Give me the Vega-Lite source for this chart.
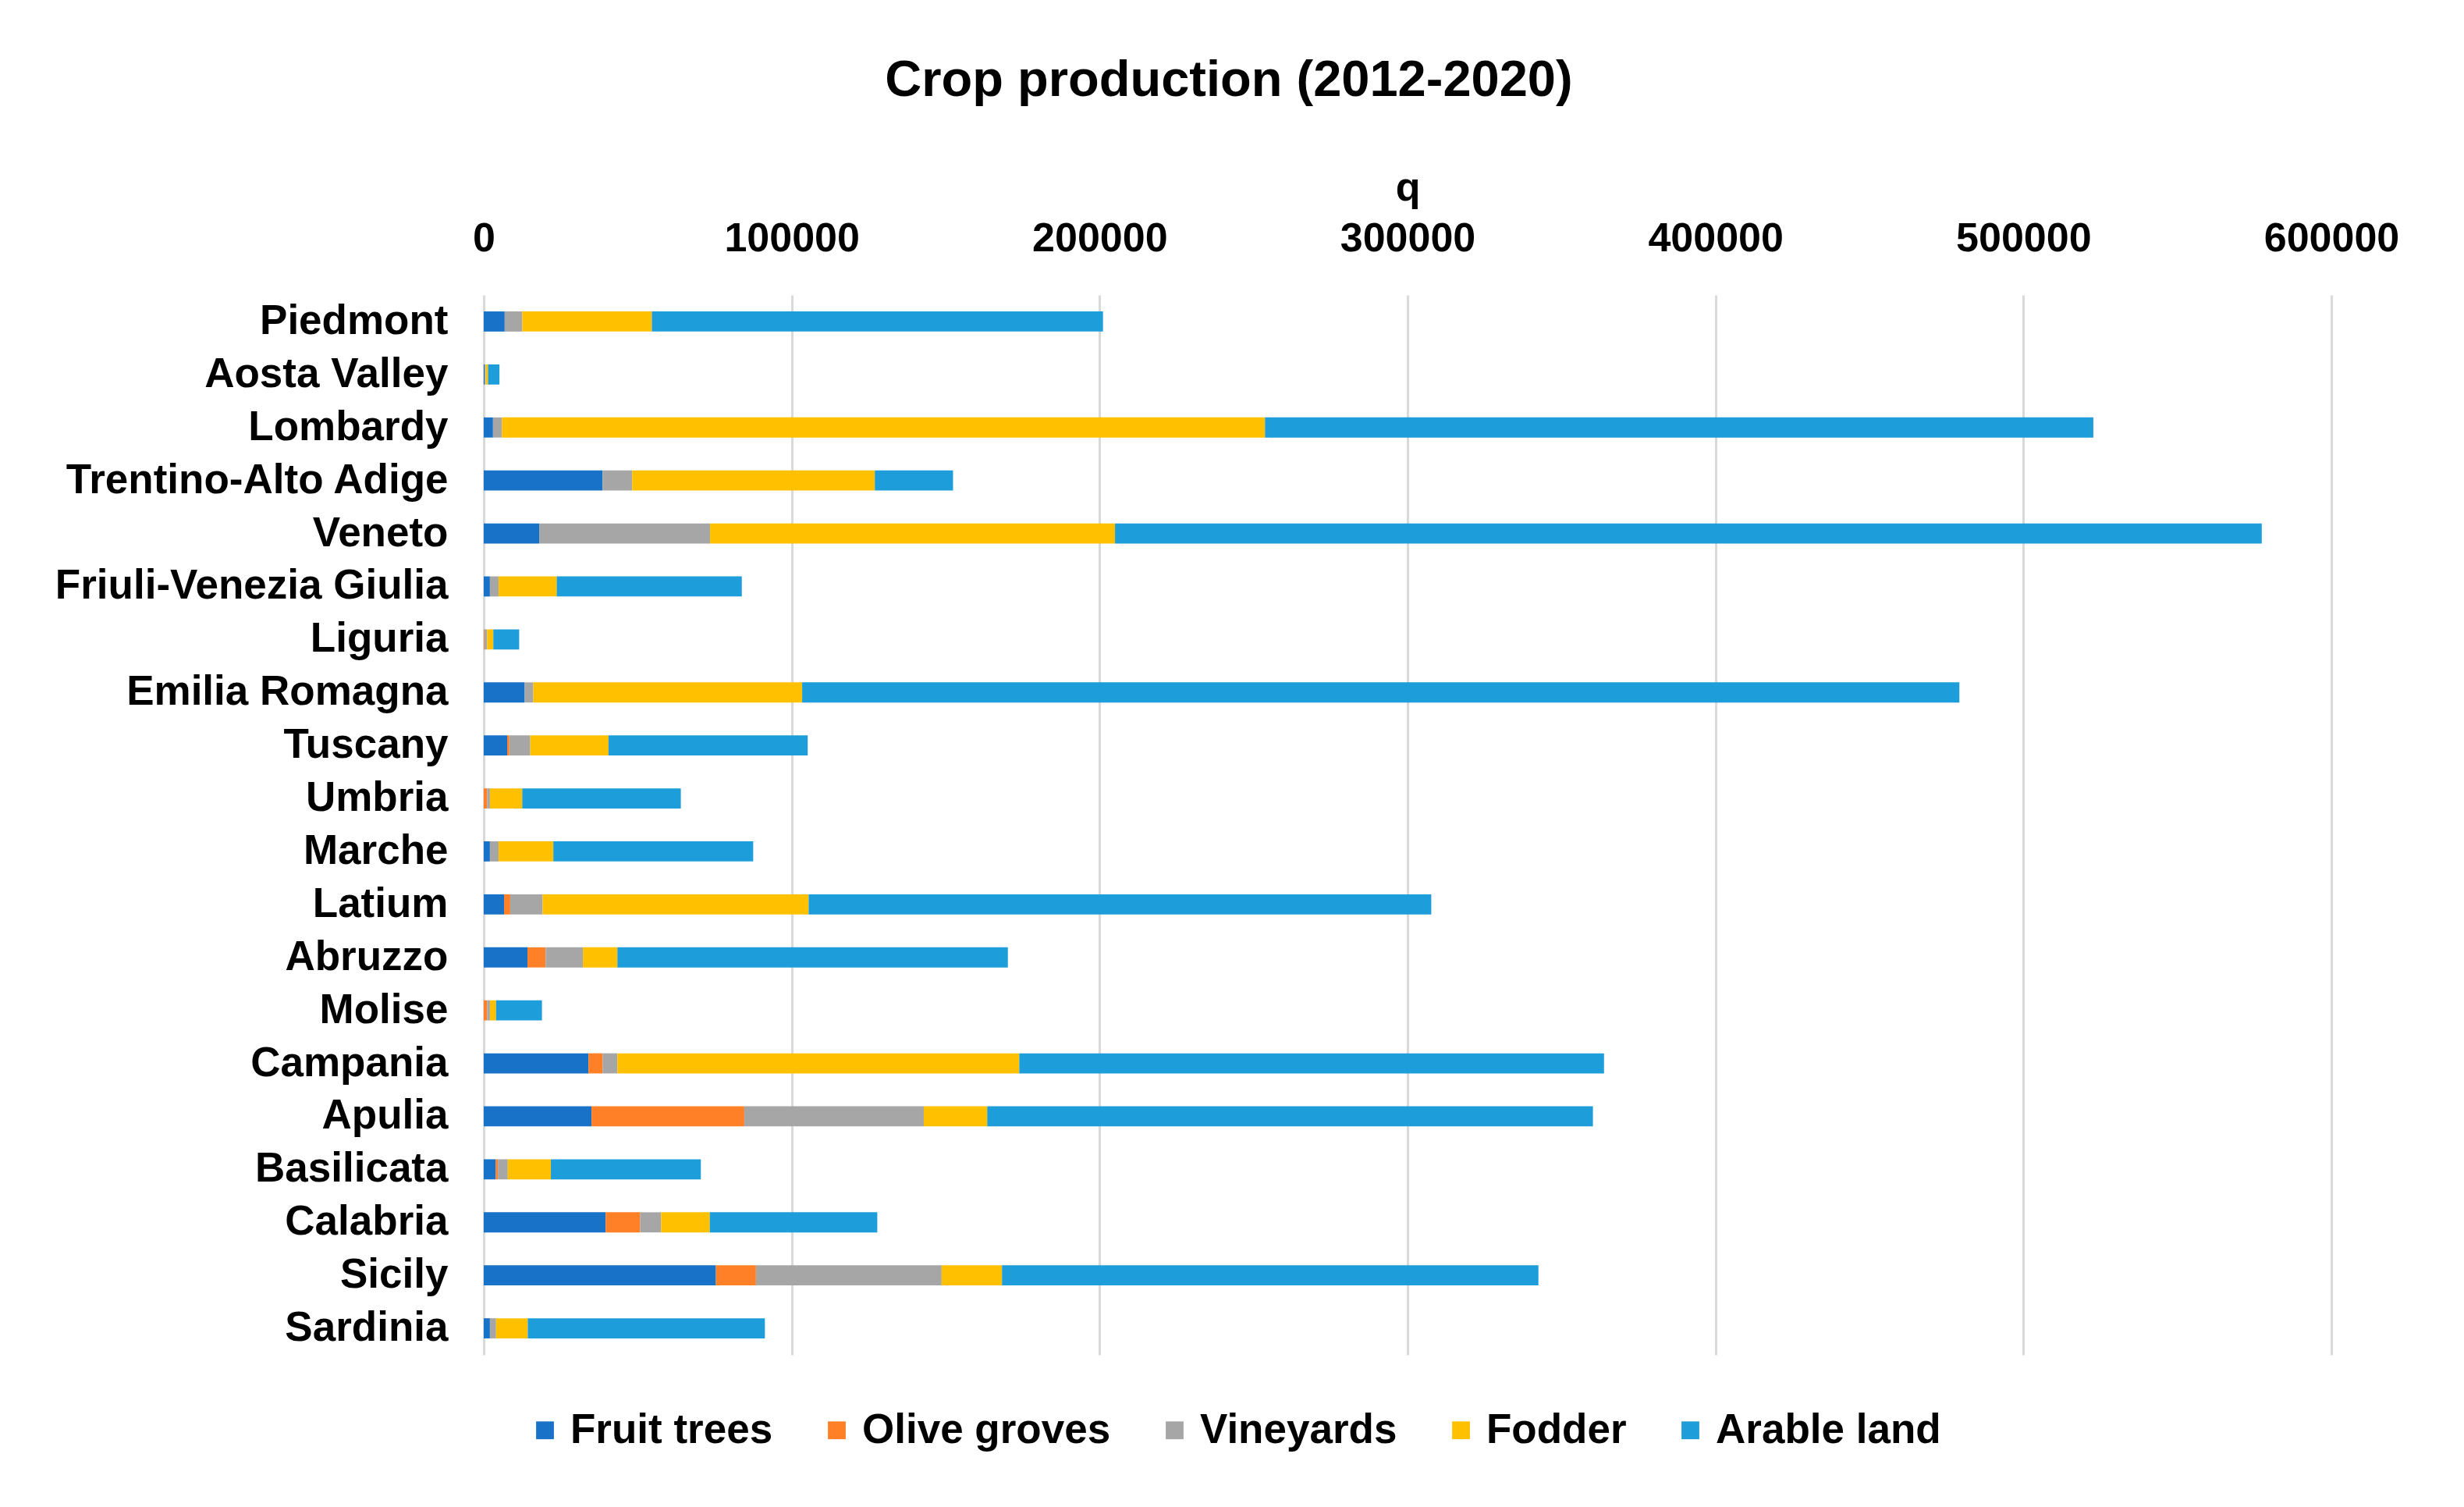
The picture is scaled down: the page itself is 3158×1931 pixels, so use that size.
{
  "$schema": "https://vega.github.io/schema/vega-lite/v6.json",
  "autosize": "none",
  "padding": {"left": 620, "top": 378, "right": 170, "bottom": 195},
  "width": 2368,
  "height": 1358,
  "background": "white",
  "title": {
    "text": "Crop production (2012-2020)",
    "font": "Liberation Sans",
    "fontSize": 65,
    "fontWeight": "bold",
    "color": "#000000",
    "anchor": "middle",
    "dx": -229,
    "offset": 77
  },
  "data": {
    "values": [
      {"region": "Piedmont", "Fruit trees": 6800, "Olive groves": 0, "Vineyards": 5700, "Fodder": 42100, "Arable land": 146500},
      {"region": "Aosta Valley", "Fruit trees": 300, "Olive groves": 0, "Vineyards": 300, "Fodder": 800, "Arable land": 3700},
      {"region": "Lombardy", "Fruit trees": 3000, "Olive groves": 0, "Vineyards": 2900, "Fodder": 247800, "Arable land": 269000},
      {"region": "Trentino-Alto Adige", "Fruit trees": 38600, "Olive groves": 0, "Vineyards": 9600, "Fodder": 78800, "Arable land": 25400},
      {"region": "Veneto", "Fruit trees": 18000, "Olive groves": 0, "Vineyards": 55500, "Fodder": 131500, "Arable land": 372400},
      {"region": "Friuli-Venezia Giulia", "Fruit trees": 2000, "Olive groves": 0, "Vineyards": 2800, "Fodder": 18900, "Arable land": 60100},
      {"region": "Liguria", "Fruit trees": 0, "Olive groves": 200, "Vineyards": 900, "Fodder": 2000, "Arable land": 8400},
      {"region": "Emilia Romagna", "Fruit trees": 13300, "Olive groves": 0, "Vineyards": 2800, "Fodder": 87300, "Arable land": 375800},
      {"region": "Tuscany", "Fruit trees": 7600, "Olive groves": 700, "Vineyards": 6800, "Fodder": 25400, "Arable land": 64700},
      {"region": "Umbria", "Fruit trees": 0, "Olive groves": 1100, "Vineyards": 900, "Fodder": 10500, "Arable land": 51500},
      {"region": "Marche", "Fruit trees": 2000, "Olive groves": 0, "Vineyards": 2800, "Fodder": 17800, "Arable land": 64900},
      {"region": "Latium", "Fruit trees": 6600, "Olive groves": 2000, "Vineyards": 10500, "Fodder": 86400, "Arable land": 202200},
      {"region": "Abruzzo", "Fruit trees": 14200, "Olive groves": 5900, "Vineyards": 12100, "Fodder": 11200, "Arable land": 126800},
      {"region": "Molise", "Fruit trees": 0, "Olive groves": 1100, "Vineyards": 900, "Fodder": 2000, "Arable land": 14900},
      {"region": "Campania", "Fruit trees": 34000, "Olive groves": 4600, "Vineyards": 4800, "Fodder": 130500, "Arable land": 189900},
      {"region": "Apulia", "Fruit trees": 35000, "Olive groves": 49600, "Vineyards": 58300, "Fodder": 20600, "Arable land": 196700},
      {"region": "Basilicata", "Fruit trees": 3900, "Olive groves": 700, "Vineyards": 3200, "Fodder": 14000, "Arable land": 48700},
      {"region": "Calabria", "Fruit trees": 39600, "Olive groves": 11200, "Vineyards": 6800, "Fodder": 15800, "Arable land": 54400},
      {"region": "Sicily", "Fruit trees": 75400, "Olive groves": 13000, "Vineyards": 60300, "Fodder": 19600, "Arable land": 174200},
      {"region": "Sardinia", "Fruit trees": 2000, "Olive groves": 0, "Vineyards": 2000, "Fodder": 10300, "Arable land": 77000}
    ]
  },
  "transform": [
    {"fold": ["Fruit trees", "Olive groves", "Vineyards", "Fodder", "Arable land"], "as": ["crop", "value"]},
    {"calculate": "indexof(['Fruit trees', 'Olive groves', 'Vineyards', 'Fodder', 'Arable land'], datum.crop)", "as": "cropOrder"}
  ],
  "mark": {"type": "bar"},
  "encoding": {
    "y": {
      "field": "region",
      "type": "nominal",
      "sort": ["Piedmont", "Aosta Valley", "Lombardy", "Trentino-Alto Adige", "Veneto", "Friuli-Venezia Giulia", "Liguria", "Emilia Romagna", "Tuscany", "Umbria", "Marche", "Latium", "Abruzzo", "Molise", "Campania", "Apulia", "Basilicata", "Calabria", "Sicily", "Sardinia"],
      "scale": {"paddingInner": 0.62, "paddingOuter": 0.31},
      "axis": {
        "title": null,
        "domain": false,
        "ticks": false,
        "grid": false,
        "labelFont": "Liberation Sans",
        "labelFontSize": 53,
        "labelFontWeight": "bold",
        "labelColor": "#000000",
        "labelPadding": 46,
        "labelLimit": 1000
      }
    },
    "x": {
      "field": "value",
      "type": "quantitative",
      "stack": "zero",
      "scale": {"domain": [0, 600000], "nice": false},
      "axis": {
        "orient": "top",
        "title": "q",
        "titleFont": "Liberation Sans",
        "titleFontSize": 52,
        "titleFontWeight": "bold",
        "titleColor": "#000000",
        "titlePadding": 12,
        "values": [0, 100000, 200000, 300000, 400000, 500000, 600000],
        "format": "d",
        "domain": false,
        "ticks": false,
        "grid": true,
        "gridColor": "#D9D9D9",
        "gridWidth": 3,
        "labelFont": "Liberation Sans",
        "labelFontSize": 52,
        "labelFontWeight": "bold",
        "labelColor": "#000000",
        "labelPadding": 46,
        "labelFlush": false,
        "labelOverlap": false
      }
    },
    "color": {
      "field": "crop",
      "type": "nominal",
      "scale": {
        "domain": ["Fruit trees", "Olive groves", "Vineyards", "Fodder", "Arable land"],
        "range": ["#1872C8", "#FF8026", "#A6A6A6", "#FFC000", "#1D9DD9"]
      },
      "legend": {
        "title": null,
        "orient": "none",
        "direction": "horizontal",
        "legendX": 52,
        "legendY": 1428,
        "padding": 0,
        "symbolType": "square",
        "symbolSize": 520,
        "symbolStrokeWidth": 0,
        "labelFont": "Liberation Sans",
        "labelFontSize": 53,
        "labelFontWeight": "bold",
        "labelColor": "#000000",
        "labelOffset": 6,
        "columnPadding": 55,
        "labelLimit": 1000
      }
    },
    "order": {"field": "cropOrder", "type": "quantitative"}
  },
  "config": {
    "view": {"stroke": null}
  }
}
